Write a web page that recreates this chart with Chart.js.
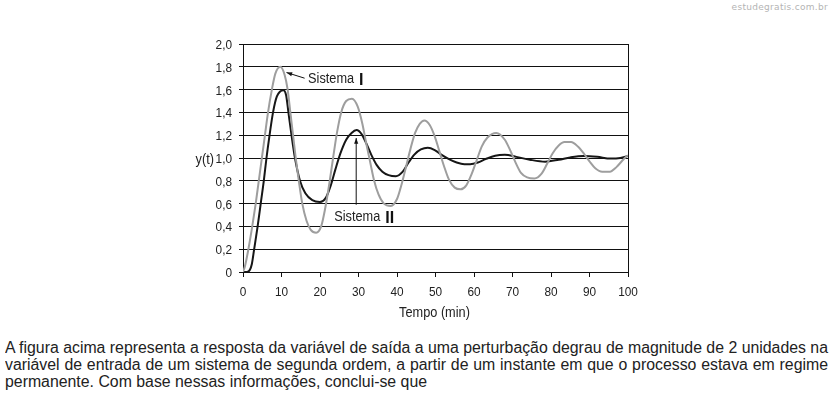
<!DOCTYPE html>
<html>
<head>
<meta charset="utf-8">
<script src="https://cdn.jsdelivr.net/npm/chart.js@4.4.1/dist/chart.umd.min.js"></script>
<style>
  html, body { margin: 0; padding: 0; background: #fff; }
  body { width: 833px; height: 396px; position: relative; overflow: hidden; }
  #wrap { position: absolute; left: 0; top: 0; width: 833px; height: 330px; }
  #marca { position: absolute; right: 5px; top: 2px; font: 9px "DejaVu Sans", sans-serif; color: #b4b4b4; letter-spacing: 0.3px; }
  /* fonte estreita simulada: Liberation Sans comprimida na horizontal (escala ajustada no script) */
  #texto { position: absolute; left: 5px; top: 339px; transform-origin: 0 0; font: 16px "Liberation Sans", sans-serif; line-height: 17px; color: #222; }
  #texto div { text-align: justify; text-align-last: justify; white-space: nowrap; }
  #texto div.ult { text-align-last: left; }
</style>
</head>
<body>
<div id="marca">estudegratis.com.br</div>
<div id="wrap"><canvas id="grafico" width="833" height="330"></canvas></div>
<div id="texto">
  <div><span id="linha1">A figura acima representa a resposta da variável de saída a uma perturbação degrau de magnitude de 2 unidades na</span></div>
  <div>variável de entrada de um sistema de segunda ordem, a partir de um instante em que o processo estava em regime</div>
  <div class="ult">permanente. Com base nessas informações, conclui-se que</div>
</div>
<script>
// Sistema I (curva cinza)
const tempoI = [0, 0.5, 1.4, 2.4, 3.3, 4.1, 4.9, 5.7, 6.5, 7.5, 8.4, 9.7, 10.8, 11.6, 12.3, 13.0, 13.7, 14.5, 15.4, 16.5, 17.6, 19.0, 20.3, 21.3, 22.4, 23.4, 24.4, 25.5, 26.8, 28.3, 29.8, 31.0, 32.0, 33.0, 34.0, 35.2, 36.6, 38.4, 40.0, 41.2, 42.4, 43.5, 44.7, 45.9, 47.1, 48.5, 49.8, 51.0, 52.2, 53.5, 55.0, 56.5, 58.0, 59.4, 60.7, 62.0, 63.5, 65.8, 68.0, 69.5, 70.8, 72.2, 73.8, 75.7, 77.5, 79.0, 80.4, 82.0, 83.5, 85.2, 87.0, 88.5, 90.0, 91.5, 93.3, 95.3, 97.0, 98.6, 100];
const yI     = [0, 0.05, 0.2, 0.4, 0.6, 0.8, 1.0, 1.2, 1.4, 1.6, 1.74, 1.8, 1.73, 1.6, 1.4, 1.2, 1.0, 0.8, 0.6, 0.45, 0.37, 0.345, 0.4, 0.55, 0.77, 1.0, 1.22, 1.4, 1.5, 1.52, 1.45, 1.3, 1.13, 0.97, 0.81, 0.68, 0.6, 0.58, 0.64, 0.77, 0.93, 1.08, 1.22, 1.3, 1.33, 1.29, 1.19, 1.06, 0.93, 0.81, 0.74, 0.725, 0.76, 0.86, 0.98, 1.1, 1.18, 1.22, 1.16, 1.06, 0.96, 0.87, 0.83, 0.82, 0.86, 0.95, 1.04, 1.11, 1.14, 1.14, 1.1, 1.04, 0.97, 0.91, 0.88, 0.88, 0.92, 0.98, 1.025];

// Sistema II (curva preta)
const tempoII = [0, 1.0, 1.8, 2.3, 2.9, 3.8, 4.6, 5.4, 6.1, 6.9, 7.8, 8.8, 10.5, 11.2, 11.8, 12.6, 13.5, 14.8, 16.2, 18.0, 20.0, 21.5, 22.8, 24.0, 25.3, 26.8, 28.2, 29.5, 30.8, 32.0, 33.3, 34.7, 36.2, 37.8, 39.7, 41.5, 43.0, 44.5, 46.2, 48.0, 49.8, 51.5, 53.5, 55.5, 57.5, 59.0, 61.0, 63.0, 65.5, 68.0, 71.0, 74.5, 78.5, 82.0, 85.0, 88.5, 92.0, 95.5, 98.0, 100];
const yII     = [0, 0, 0.02, 0.07, 0.2, 0.4, 0.6, 0.8, 1.0, 1.2, 1.4, 1.54, 1.595, 1.55, 1.4, 1.2, 1.0, 0.8, 0.69, 0.63, 0.615, 0.65, 0.76, 0.9, 1.04, 1.16, 1.22, 1.245, 1.21, 1.13, 1.03, 0.94, 0.88, 0.85, 0.84, 0.88, 0.96, 1.03, 1.075, 1.09, 1.07, 1.03, 0.99, 0.96, 0.945, 0.945, 0.96, 0.99, 1.02, 1.028, 1.01, 0.985, 0.968, 0.985, 1.005, 1.017, 1.01, 0.995, 1.0, 1.017];

const xTicks = [0, 10, 20, 30, 40, 50, 60, 70, 80, 90, 100];
const yTicks = [0, 0.2, 0.4, 0.6, 0.8, 1.0, 1.2, 1.4, 1.6, 1.8, 2.0];

const FONT = "'Liberation Sans', sans-serif";
const NARROW = 0.91; // largura da fonte estreita do original
const ink = "#222";

// parágrafo: comprime a fonte até a 1a linha ocupar 823px
(() => {
  const box = document.getElementById("texto");
  const w = document.getElementById("linha1").getBoundingClientRect().width;
  const k = 823 / w;
  box.style.width = w + "px";
  box.style.transform = `scaleX(${k})`;
})();

const pts = (xs, ys) => xs.map((x, i) => ({ x, y: ys[i] }));
const fmtY = (v) => (v === 0 ? "0" : v.toFixed(1).replace(".", ","));

// texto comprimido na horizontal (imita Arial Narrow)
function narrowText(ctx, s, x, y, align, font) {
  ctx.save();
  ctx.font = font;
  ctx.textAlign = align;
  ctx.textBaseline = "middle";
  ctx.translate(x, y);
  ctx.scale(NARROW, 1);
  ctx.fillText(s, 0, 0);
  const w = ctx.measureText(s).width * NARROW;
  ctx.restore();
  return w;
}

// moldura à direita, rótulos dos eixos e setas com os nomes
const extras = {
  id: "extras",
  afterDraw(chart) {
    const ctx = chart.ctx;
    const a = chart.chartArea;
    const sx = chart.scales.x, sy = chart.scales.y;
    const X = (v) => sx.getPixelForValue(v), Y = (v) => sy.getPixelForValue(v);
    ctx.save();
    ctx.strokeStyle = "#111";
    ctx.lineWidth = 1;
    ctx.beginPath();
    ctx.moveTo(Math.round(a.right) + 0.5, a.top);
    ctx.lineTo(Math.round(a.right) + 0.5, a.bottom);
    ctx.stroke();

    ctx.fillStyle = ink;
    const f13 = "13px " + FONT;
    yTicks.forEach((v) => narrowText(ctx, fmtY(v), a.left - 11, Y(v) + 1.5, "right", f13));
    xTicks.forEach((v) => narrowText(ctx, String(v), X(v), a.bottom + 20, "center", f13));
    narrowText(ctx, "y(t)", a.left - 29, Y(1.0) + 2, "right", "14px " + FONT);
    narrowText(ctx, "Tempo (min)", (a.left + a.right) / 2 - 1, a.bottom + 41, "center", "14px " + FONT);

    const seta = (x1, y1, x2, y2) => {
      ctx.beginPath();
      ctx.moveTo(x1, y1);
      ctx.lineTo(x2, y2);
      ctx.stroke();
      const ang = Math.atan2(y2 - y1, x2 - x1);
      ctx.beginPath();
      ctx.moveTo(x2, y2);
      ctx.lineTo(x2 - 6 * Math.cos(ang - 0.35), y2 - 6 * Math.sin(ang - 0.35));
      ctx.lineTo(x2 - 6 * Math.cos(ang + 0.35), y2 - 6 * Math.sin(ang + 0.35));
      ctx.closePath();
      ctx.fill();
    };
    ctx.fillStyle = "#111";
    seta(X(16.0), Y(1.70), X(11.3), Y(1.75));
    seta(X(29.4), Y(0.59), X(29.4), Y(1.175));

    const nome = (x, y, num) => {
      ctx.fillStyle = ink;
      const w = narrowText(ctx, "Sistema", x, y, "left", "14px " + FONT);
      ctx.save();
      ctx.font = "bold 16px " + FONT;
      ctx.textAlign = "left";
      ctx.textBaseline = "middle";
      ctx.fillStyle = "#111";
      ctx.fillText(num, x + w + 5, y + 1);
      ctx.restore();
    };
    nome(X(16.9), Y(1.69), "I");
    nome(X(23.7), Y(0.48), "II");
    ctx.restore();
  },
};

new Chart(document.getElementById("grafico"), {
  type: "line",
  data: {
    datasets: [
      { label: "Sistema I", data: pts(tempoI, yI), borderColor: "#9e9e9e", borderWidth: 2, pointRadius: 0, cubicInterpolationMode: "monotone", fill: false },
      { label: "Sistema II", data: pts(tempoII, yII), borderColor: "#161616", borderWidth: 2, pointRadius: 0, cubicInterpolationMode: "monotone", fill: false },
    ],
  },
  options: {
    responsive: false,
    animation: false,
    events: [],
    layout: { padding: { left: 0, right: 205, top: 44, bottom: 0 } },
    plugins: { legend: { display: false }, tooltip: { enabled: false } },
    scales: {
      x: {
        type: "linear",
        min: 0,
        max: 100,
        afterBuildTicks: (s) => { s.ticks = xTicks.map((v) => ({ value: v })); },
        afterFit: (s) => { s.height = 58; },
        ticks: { display: false },
        grid: { drawOnChartArea: false, drawTicks: true, tickLength: 5, color: "#111" },
        border: { color: "#111", width: 1 },
      },
      y: {
        min: 0,
        max: 2,
        afterBuildTicks: (s) => { s.ticks = yTicks.map((v) => ({ value: v })); },
        afterFit: (s) => { s.width = 243; },
        ticks: { display: false },
        grid: { color: "#111", tickLength: 4, lineWidth: 1 },
        border: { color: "#111", width: 1 },
      },
    },
  },
  plugins: [extras],
});
</script>
</body>
</html>
